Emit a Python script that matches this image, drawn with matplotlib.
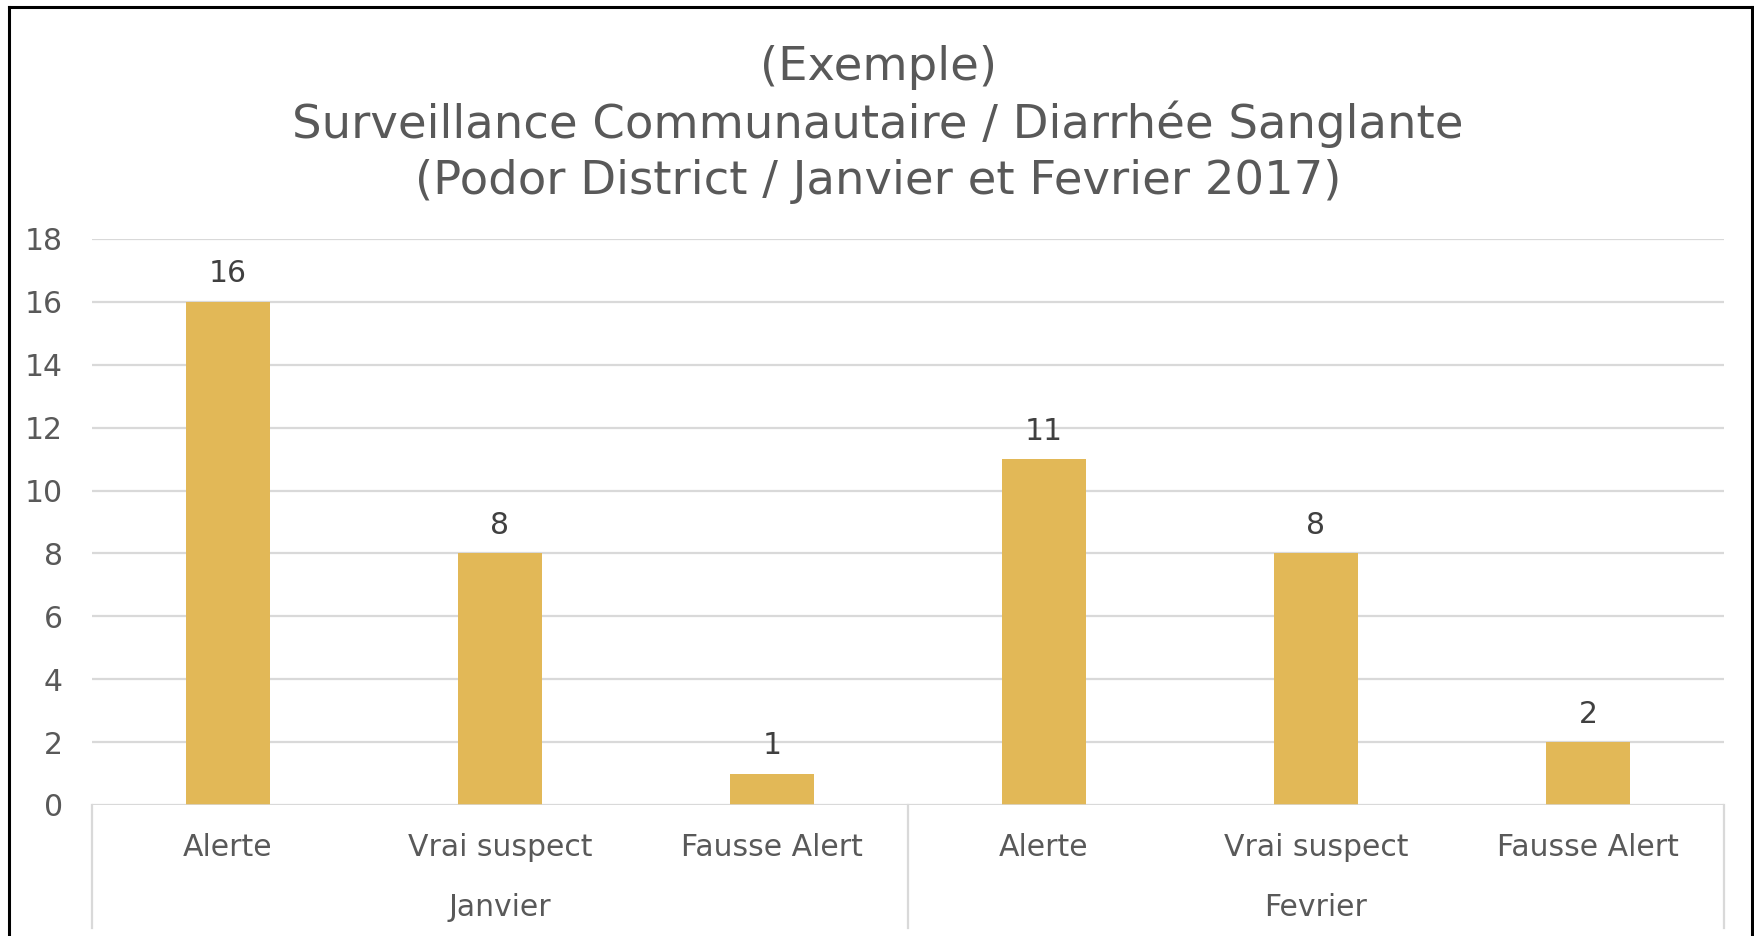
import matplotlib
matplotlib.use("Agg")
import matplotlib.pyplot as plt
from matplotlib.lines import Line2D

plt.rcParams['font.family'] = ['DejaVu Sans']

# ---- data ----
months = ["Janvier", "Fevrier"]
categories = ["Alerte", "Vrai suspect", "Fausse Alert"]
values_janvier = [16, 8, 1]
values_fevrier = [11, 8, 2]
title_lines = ["(Exemple)",
               "Surveillance Communautaire / Diarrhée Sanglante",
               "(Podor District / Janvier et Fevrier 2017)"]
yticks = [0, 2, 4, 6, 8, 10, 12, 14, 16, 18]

BAR = "#E2B857"
GRID = "#D9D9D9"
TXT = "#595959"
LBL = "#404040"

W, H = 1754, 936
fig = plt.figure(figsize=(W / 100, H / 100), dpi=100)
fig.patch.set_facecolor("white")

# outer black frame (bottom cut off)
fig.add_artist(Line2D([9 / W, 9 / W], [0, 1 - 7 / H], color="black", lw=2.2, transform=fig.transFigure))
fig.add_artist(Line2D([9 / W, 1752 / W], [1 - 7 / H, 1 - 7 / H], color="black", lw=2.2, transform=fig.transFigure))
fig.add_artist(Line2D([1752 / W, 1752 / W], [0, 1 - 7 / H], color="black", lw=2.2, transform=fig.transFigure))

left, right = 92, 1724
y0, ytop = 805, 239
ax = fig.add_axes([left / W, (H - y0) / H, (right - left) / W, (y0 - ytop) / H])

values = values_janvier + values_fevrier
labels = categories + categories
x = list(range(len(values)))
ax.bar(x, values, width=0.31, color=BAR, zorder=3)

FS = 21.5
ax.set_xlim(-0.5, len(values) - 0.5)
ax.set_ylim(0, 18)
ax.set_yticks(yticks)
ax.set_yticklabels([str(t) for t in yticks], fontsize=FS, color=TXT)
ax.tick_params(axis="y", length=0, pad=21)
ax.set_xticks([])
for s in ax.spines.values():
    s.set_visible(False)
ax.yaxis.grid(True, color=GRID, lw=1.6, zorder=0)
ax.set_axisbelow(True)
ax.axhline(0, color=GRID, lw=1.8, zorder=4)

for xi, v in zip(x, values):
    ax.annotate(str(v), (xi, v), xytext=(0, 28), textcoords="offset pixels",
                ha="center", va="center", fontsize=FS, color=LBL)

ah = y0 - ytop
trans = ax.get_xaxis_transform()
row1 = -(847 - y0) / ah
row2 = -(908 - y0) / ah
sep_bottom = -(928 - y0) / ah
for xi, lab in zip(x, labels):
    ax.text(xi, row1, lab, transform=trans, ha="center", va="center", fontsize=FS, color=TXT)
n = len(categories)
for i, m in enumerate(months):
    ax.text(i * n + (n - 1) / 2, row2, m, transform=trans, ha="center", va="center", fontsize=FS, color=TXT)
for b in [-0.5, n - 0.5, 2 * n - 0.5]:
    ax.add_line(Line2D([b, b], [0, sep_bottom], transform=trans, color=GRID, lw=1.6, clip_on=False))

for yc, t in zip([67, 124, 181], title_lines):
    fig.text(878 / W, 1 - yc / H, t, ha="center", va="center", fontsize=33.5, color=TXT)

fig.savefig("out.png", dpi=100, facecolor="white")
